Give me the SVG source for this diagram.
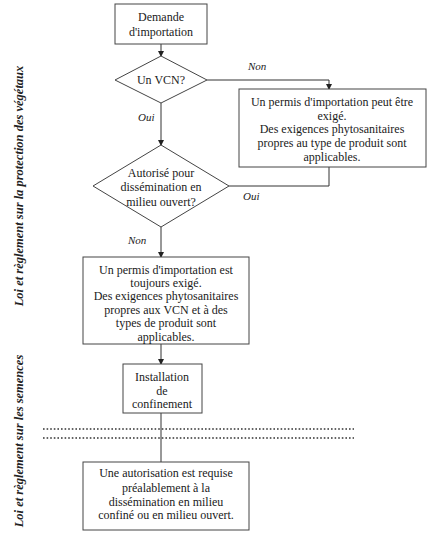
<svg xmlns="http://www.w3.org/2000/svg" width="432" height="544" viewBox="0 0 432 544">
<style>
.box{fill:#fff;stroke:#444;stroke-width:1}
.t{font-size:12px;fill:#1a1a1a;text-anchor:middle}
.lbl{font-size:11px;font-style:italic;fill:#222}
.side{font-size:12.5px;font-style:italic;font-weight:bold;fill:#222;text-anchor:middle}
.c{fill:none;stroke:#333;stroke-width:1}
.dot{fill:none;stroke:#333;stroke-width:1.6;stroke-dasharray:1.6 2}
</style>
<defs>
<marker id="ah" markerWidth="6" markerHeight="6" refX="5" refY="3" orient="auto" markerUnits="userSpaceOnUse">
<path d="M0,0 L6,3 L0,6 z" fill="#222"/>
</marker>
</defs>
<rect width="432" height="544" fill="#fff"/>
<g font-family="Liberation Serif, Times New Roman, serif">
<g id="side-labels">
<text class="side" transform="translate(23,186) rotate(-90)">Loi et règlement sur la protection des végétaux</text>
<text class="side" transform="translate(23,441) rotate(-90)">Loi et règlement sur les semences</text>
</g>
<g id="connectors">
<line class="c" x1="161" y1="44" x2="161" y2="56" marker-end="url(#ah)"/>
<polyline class="c" points="207,80 329,80 329,89" marker-end="url(#ah)"/>
<line class="c" x1="161" y1="103" x2="161" y2="145" marker-end="url(#ah)"/>
<polyline class="c" points="329,167 329,186 229,186"/>
<line class="c" x1="161" y1="227" x2="161" y2="257" marker-end="url(#ah)"/>
<line class="c" x1="161" y1="344" x2="161" y2="364" marker-end="url(#ah)"/>
<line class="c" x1="161" y1="413" x2="161" y2="462"/>
<text class="lbl" x="248" y="70">Non</text>
<text class="lbl" x="138" y="121">Oui</text>
<text class="lbl" x="243" y="200">Oui</text>
<text class="lbl" x="128" y="244">Non</text>
</g>
<g id="separator">
<line class="dot" x1="43" y1="429" x2="354" y2="429"/>
<line class="dot" x1="43" y1="438" x2="354" y2="438"/>
</g>
<g id="n1">
<rect class="box" x="115" y="4" width="92" height="40"/>
<text class="t" x="161" y="21">Demande</text>
<text class="t" x="161" y="36">d'importation</text>
</g>
<g id="n2">
<polygon class="box" points="161,56 207,80 161,103 115,80"/>
<text class="t" x="161" y="84">Un VCN?</text>
</g>
<g id="n3">
<rect class="box" x="239" y="89" width="187" height="78"/>
<text class="t" x="332" y="106">Un permis d'importation peut être</text>
<text class="t" x="332" y="120">exigé.</text>
<text class="t" x="332" y="133">Des exigences phytosanitaires</text>
<text class="t" x="332" y="147">propres au type de produit sont</text>
<text class="t" x="332" y="161">applicables.</text>
</g>
<g id="n4">
<polygon class="box" points="161,145 229,186 161,227 93,186"/>
<text class="t" x="161" y="177">Autorisé pour</text>
<text class="t" x="161" y="191">dissémination en</text>
<text class="t" x="161" y="206">milieu ouvert?</text>
</g>
<g id="n5">
<rect class="box" x="83" y="257" width="166" height="87"/>
<text class="t" x="166" y="274">Un permis d'importation est</text>
<text class="t" x="166" y="287">toujours exigé.</text>
<text class="t" x="166" y="300">Des exigences phytosanitaires</text>
<text class="t" x="166" y="314">propres aux VCN et à des</text>
<text class="t" x="166" y="327">types de produit sont</text>
<text class="t" x="166" y="341">applicables.</text>
</g>
<g id="n6">
<rect class="box" x="123" y="364" width="79" height="49"/>
<text class="t" x="162" y="381">Installation</text>
<text class="t" x="162" y="395">de</text>
<text class="t" x="162" y="408">confinement</text>
</g>
<g id="n7">
<rect class="box" x="83" y="462" width="166" height="68"/>
<text class="t" x="166" y="477">Une autorisation est requise</text>
<text class="t" x="166" y="492">préalablement à la</text>
<text class="t" x="166" y="506">dissémination en milieu</text>
<text class="t" x="166" y="519">confiné ou en milieu ouvert.</text>
</g>
</g>
</svg>
